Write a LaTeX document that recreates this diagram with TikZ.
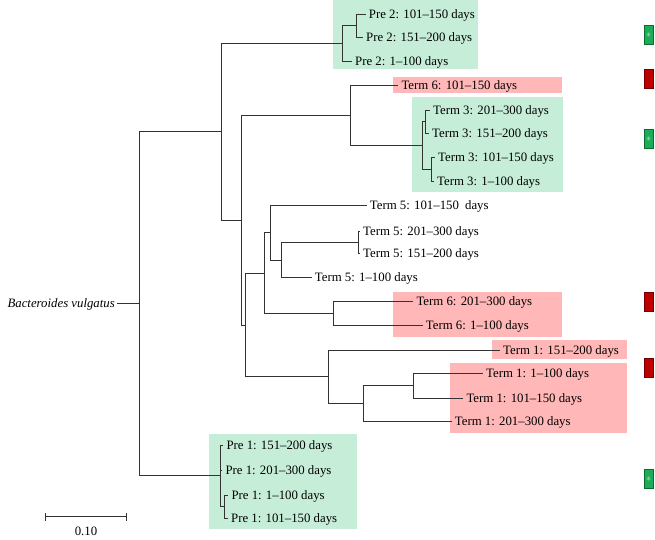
\documentclass[tikz,border=0pt]{standalone}
\usepackage{fontspec}
\setmainfont{Liberation Serif}
\definecolor{gbox}{HTML}{C6EDD8}
\definecolor{rbox}{HTML}{FFB7B7}
\definecolor{gmark}{HTML}{1BAE57}
\definecolor{gmarkd}{HTML}{0C6A33}
\definecolor{rmark}{HTML}{C00000}
\definecolor{rmarkd}{HTML}{6E0000}
\begin{document}
\begin{tikzpicture}[x=1pt,y=-1pt,
  br/.style={line width=0.9pt, draw=black!80},
  leaf/.style={anchor=west, inner xsep=3pt, inner ysep=0pt, font=\fontsize{12.8}{14}\selectfont, text height=8.5pt, text depth=0pt},
  gm/.style={draw=gmarkd, fill=gmark, line width=0.6pt, minimum width=9pt, minimum height=19pt, inner sep=0pt, text=white!80!gmark, font=\fontsize{10}{10}\selectfont},
  rm/.style={draw=rmarkd, fill=rmark, line width=0.6pt, minimum width=9pt, minimum height=19pt, inner sep=0pt}]
\useasboundingbox (0,0) rectangle (655,540);
% highlight boxes
\fill[gbox] (332.7,0) rectangle (478,69);
\fill[rbox] (393.3,77.3) rectangle (562,92.7);
\fill[gbox] (411.7,97.3) rectangle (563.3,191.7);
\fill[rbox] (393.3,291.7) rectangle (561.7,336.7);
\fill[rbox] (491.7,340) rectangle (626.7,359);
\fill[rbox] (450,363.3) rectangle (626.7,433.3);
\fill[gbox] (209,434) rectangle (357.3,529.3);
% internal nodes
\coordinate (R) at (139,303.7);
\coordinate (U) at (221,131.5);
\coordinate (P2) at (342.7,43);
\coordinate (P2a) at (356.7,25.5);
\coordinate (V) at (241.7,220);
\coordinate (W) at (350.7,115);
\coordinate (T3) at (422.7,145.5);
\coordinate (T3a) at (425,121.7);
\coordinate (T3b) at (431.7,169.3);
\coordinate (X) at (245,325);
\coordinate (Y) at (264,273);
\coordinate (A) at (270.7,232.5);
\coordinate (B) at (281.7,260);
\coordinate (C) at (358.3,242.3);
\coordinate (T6) at (333.3,313.7);
\coordinate (T1) at (328.3,376.7);
\coordinate (T1b) at (363.3,403.7);
\coordinate (T1c) at (413.3,385.8);
\coordinate (P1) at (220,475.8);
\coordinate (P1c) at (224,506.7);
% leaves
\node[leaf] (pre2a) at (365.7,14) {Pre 2: 101–150 days};
\node[leaf] (pre2b) at (363,37) {Pre 2: 151–200 days};
\node[leaf] (pre2c) at (352,61) {Pre 2: 1–100 days};
\node[leaf] (t6a) at (398.3,85) {Term 6: 101–150 days};
\node[leaf] (t3a) at (430,110) {Term 3: 201–300 days};
\node[leaf] (t3b) at (429,133.3) {Term 3: 151–200 days};
\node[leaf] (t3c) at (435,157.7) {Term 3: 101–150 days};
\node[leaf] (t3d) at (434,181) {Term 3: 1–100 days};
\node[leaf] (t5a) at (366.7,205) {Term 5: 101–150\hspace{3pt} days};
\node[leaf] (t5b) at (360,231.7) {Term 5: 201–300 days};
\node[leaf] (t5c) at (360,253) {Term 5: 151–200 days};
\node[leaf] (t5d) at (311.7,277.3) {Term 5: 1–100 days};
\node[leaf] (t6b) at (413.3,301.7) {Term 6: 201–300 days};
\node[leaf] (t6c) at (422.7,325.7) {Term 6: 1–100 days};
\node[leaf] (t1a) at (500,350) {Term 1: 151–200 days};
\node[leaf] (t1b) at (483,373.3) {Term 1: 1–100 days};
\node[leaf] (t1c) at (463.3,398.3) {Term 1: 101–150 days};
\node[leaf] (t1d) at (451.7,421.7) {Term 1: 201–300 days};
\node[leaf] (p1a) at (223.3,445) {Pre 1: 151–200 days};
\node[leaf] (p1b) at (222.3,470.7) {Pre 1: 201–300 days};
\node[leaf] (p1c) at (228.3,495) {Pre 1: 1–100 days};
\node[leaf] (p1d) at (228,518.3) {Pre 1: 101–150 days};
\node[anchor=east, inner xsep=2pt, font=\fontsize{12.8}{14}\itshape, text height=8.5pt, text depth=0pt] (root) at (117,303.7) {Bacteroides vulgatus};
% branches
\draw[br] (root.east) -- (R);
\draw[br] (R) |- (U);
\draw[br] (R) |- (P1);
\draw[br] (U) |- (P2);
\draw[br] (U) |- (V);
\draw[br] (P2) |- (P2a);
\draw[br] (P2) |- (pre2c.west);
\draw[br] (P2a) |- (pre2a.west);
\draw[br] (P2a) |- (pre2b.west);
\draw[br] (V) |- (W);
\draw[br] (V) |- (X);
\draw[br] (W) |- (t6a.west);
\draw[br] (W) |- (T3);
\draw[br] (T3) |- (T3a);
\draw[br] (T3) |- (T3b);
\draw[br] (T3a) |- (t3a.west);
\draw[br] (T3a) |- (t3b.west);
\draw[br] (T3b) |- (t3c.west);
\draw[br] (T3b) |- (t3d.west);
\draw[br] (X) |- (Y);
\draw[br] (X) |- (T1);
\draw[br] (Y) |- (A);
\draw[br] (Y) |- (T6);
\draw[br] (A) |- (t5a.west);
\draw[br] (A) |- (B);
\draw[br] (B) |- (C);
\draw[br] (B) |- (t5d.west);
\draw[br] (C) |- (t5b.west);
\draw[br] (C) |- (t5c.west);
\draw[br] (T6) |- (t6b.west);
\draw[br] (T6) |- (t6c.west);
\draw[br] (T1) |- (t1a.west);
\draw[br] (T1) |- (T1b);
\draw[br] (T1b) |- (T1c);
\draw[br] (T1b) |- (t1d.west);
\draw[br] (T1c) |- (t1b.west);
\draw[br] (T1c) |- (t1c.west);
\draw[br] (P1) |- (p1a.west);
\draw[br] (P1) |- (p1b.west);
\draw[br] (P1) |- (P1c);
\draw[br] (P1c) |- (p1c.west);
\draw[br] (P1c) |- (p1d.west);
% markers
\node[gm] (m1) at (648.5,35) {$\ast$};
\node[rm] (m2) at (648.5,79) {};
\node[gm] (m3) at (648.5,139) {$\ast$};
\node[rm] (m4) at (648.5,302) {};
\node[rm] (m5) at (648.5,368) {};
\node[gm] (m6) at (648.5,479) {$\ast$};
% scale bar
\coordinate (sb1) at (45,516.7);
\coordinate (sb2) at (126.7,516.7);
\draw[br] (sb1) -- (sb2);
\draw[br] ([yshift=-4pt]sb1) -- ([yshift=4pt]sb1);
\draw[br] ([yshift=-4pt]sb2) -- ([yshift=4pt]sb2);
\node[font=\fontsize{12.8}{14}\selectfont, anchor=north] (sblab) at (86,523) {0.10};
\end{tikzpicture}
\end{document}
